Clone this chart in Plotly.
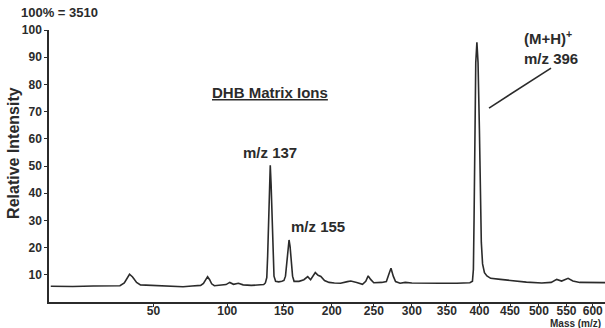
import numpy as np
import plotly.graph_objects as go

# MALDI-TOF spectrum, DHB matrix (m/z vs. relative intensity, %)
mz = [9, 15, 22, 28, 33, 35, 36.5, 37.5, 39, 41, 43, 48, 55, 62, 68, 74, 80,
      82, 83.5, 85, 86.5, 88, 90, 95, 99, 102, 105, 109, 113, 120, 127, 131,
      132.5, 133.8, 134.6, 135.4, 136.2, 137, 137.8, 138.7, 139.6, 140.5, 142, 145, 148,
      150, 151.5, 153, 154, 155, 156, 157, 158.5, 160,
      165, 170, 174, 177, 180, 182, 185, 188, 192, 197, 203, 210, 218, 222,
      229, 236, 240, 243, 246, 250, 260, 266, 269, 272, 275, 278, 284, 291,
      300, 316, 340, 365, 385, 389,
      390.5, 391.5, 392.5, 394.2, 396, 397.8, 400, 401.5, 403, 405, 408, 412, 418,
      434, 455, 478, 505, 522, 532, 541, 553, 562, 575, 601, 635]
intensity = [5.8, 5.7, 5.9, 5.8, 6.0, 7.0, 9.0, 10.2, 9.2, 7.2, 6.3, 6.1, 5.9, 5.8, 5.6, 5.9, 6.1,
             6.8, 8.3, 9.3, 8.2, 6.7, 6.0, 6.1, 6.4, 7.2, 6.5, 6.9, 6.3, 6.1, 6.2, 6.4,
             7.0, 9.0, 17.0, 31.0, 44.0, 50.3, 43.0, 30.0, 16.0, 9.5, 7.6, 7.4, 7.6,
             7.9, 9.5, 15.0, 20.5, 22.8, 20.5, 15.0, 9.5, 7.6,
             7.6, 8.2, 9.3, 8.2, 10.0, 10.8, 9.8, 9.4, 7.9, 7.2, 7.0, 6.9, 7.5, 7.7,
             7.2, 6.5, 7.6, 9.6, 8.3, 7.1, 7.2, 7.5, 10.0, 12.4, 9.5, 7.5, 6.9, 7.2,
             7.0, 6.9, 6.9, 6.9, 7.1, 7.6,
             12.0, 30.0, 63.0, 88.0, 95.5, 88.0, 63.0, 38.0, 22.0, 14.0, 10.8, 9.6, 8.7,
             8.3, 7.7, 7.3, 7.0, 7.2, 8.3, 7.7, 8.7, 7.7, 7.2, 7.2, 7.1]

mass_ticks = [50, 100, 150, 200, 250, 300, 350, 400, 450, 500, 550, 600]
intensity_ticks = [10, 20, 30, 40, 50, 60, 70, 80, 90, 100]

# time-of-flight axis: position grows with sqrt(m/z)
x = np.sqrt(mz)

ink = "#2b2b2b"
font_family = "Liberation Sans, Arial, sans-serif"

fig = go.Figure()
fig.add_trace(go.Scatter(
    x=x, y=intensity, mode="lines",
    line=dict(color=ink, width=1.6),
    hoverinfo="skip", showlegend=False,
))

def label(text, xv, yv, size=15, xanchor="center", xref="x", yref="y", angle=0):
    fig.add_annotation(
        x=xv, y=yv, xref=xref, yref=yref, text=text, showarrow=False,
        xanchor=xanchor, yanchor="middle", textangle=angle,
        font=dict(family=font_family, size=size, color=ink, weight="bold"),
    )

label("m/z 137", np.sqrt(137), 55.1)
label("m/z 155", np.sqrt(155), 27.6, xanchor="left")
label("<u>DHB Matrix Ions</u>", 0.397, 0.771, xref="paper", yref="paper")
label("(M+H)<sup>+</sup>", 0.850, 0.974, xanchor="left", xref="paper", yref="paper")
label("m/z 396", 0.850, 0.897, xanchor="left", xref="paper", yref="paper")
label("100% = 3510", -0.054, 1.066, size=13, xanchor="left", xref="paper", yref="paper")
label("Relative Intensity", -0.063, 0.548, size=16, xref="paper", yref="paper", angle=-90)
label("Mass (m/z)", 0.997, -0.080, size=10, xanchor="right", xref="paper", yref="paper")

# pointer line to the molecular ion peak
fig.add_shape(type="line", xref="x", yref="y",
              x0=22.84, y0=86.0, x1=20.38, y1=71.3,
              line=dict(color=ink, width=1.6))

axis_font = dict(family=font_family, size=12, color=ink, weight="bold")
fig.update_xaxes(
    range=[2.93, 24.98], tickvals=np.sqrt(mass_ticks),
    ticktext=[str(t) for t in mass_ticks],
    showline=True, linecolor=ink, linewidth=1.5, ticks="outside",
    ticklen=3, tickcolor=ink, showgrid=False, zeroline=False,
    tickfont=axis_font, ticklabelstandoff=-6,
)
fig.update_yaxes(
    range=[0, 100], tickvals=intensity_ticks,
    showline=True, linecolor=ink, linewidth=1.5, ticks="outside",
    ticklen=3, tickcolor=ink, showgrid=False, zeroline=False,
    tickfont=axis_font,
)
fig.update_layout(
    width=605, height=328,
    margin=dict(l=49, r=0, t=30, b=26),
    paper_bgcolor="white", plot_bgcolor="white",
)

fig.write_html("out.html")
